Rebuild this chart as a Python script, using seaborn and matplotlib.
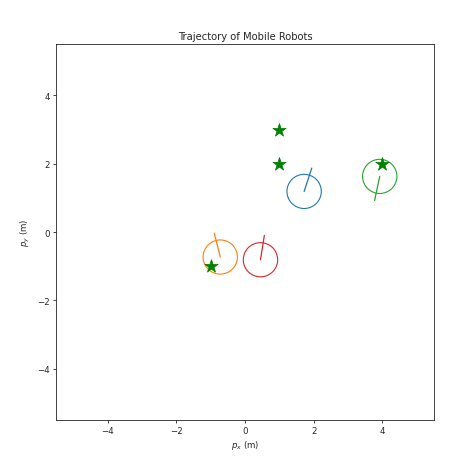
import numpy as np
import pandas as pd
import seaborn as sns
import matplotlib.pyplot as plt
from matplotlib.patches import Circle

# goal positions (green stars)
goal_x = [1.0, 1.0, -1.0, 4.0]
goal_y = [3.0, 2.0, -1.0, 2.0]

# robot states: position and heading (deg)
robot_x = [1.72, -0.72, 3.92, 0.45]
robot_y = [1.19, -0.73, 1.63, -0.81]
robot_theta = [72, 104, -102, 81]
robot_colors = ["tab:blue", "tab:orange", "tab:green", "tab:red"]

radius = 0.5
arrow_len = 0.72

sns.set_style("ticks")
plt.rcParams["font.family"] = ["DejaVu Sans"]

fig = plt.figure(figsize=(4.65, 4.6), dpi=100)
ax = fig.add_axes([0.1204, 0.0848, 0.813, 0.817])

for x, y, th, c in zip(robot_x, robot_y, robot_theta, robot_colors):
    ax.add_patch(Circle((x, y), radius, fill=False, edgecolor=c, linewidth=0.8))
    t = np.deg2rad(th)
    ax.plot([x, x + arrow_len * np.cos(t)], [y, y + arrow_len * np.sin(t)],
            color=c, linewidth=0.9)

goals = pd.DataFrame({"x": goal_x, "y": goal_y})
sns.scatterplot(data=goals, x="x", y="y", marker="*", color="green",
                s=100, edgecolor="green", linewidth=0.5, ax=ax, zorder=3)

ax.set_xlim(-5.5, 5.5)
ax.set_ylim(-5.5, 5.5)
ax.set_xticks([-4, -2, 0, 2, 4])
ax.set_yticks([-4, -2, 0, 2, 4])
ax.tick_params(labelsize=6.2, length=2.2, width=0.6, pad=2)
for s in ax.spines.values():
    s.set_linewidth(0.6)
    s.set_color("#222222")
ax.set_xlabel(r"$p_x$ (m)", fontsize=6.2, labelpad=2)
ax.set_ylabel(r"$p_y$ (m)", fontsize=6.2, labelpad=4)
ax.set_title("Trajectory of Mobile Robots", fontsize=7.2, pad=4)

fig.savefig("out.png", dpi=100)
